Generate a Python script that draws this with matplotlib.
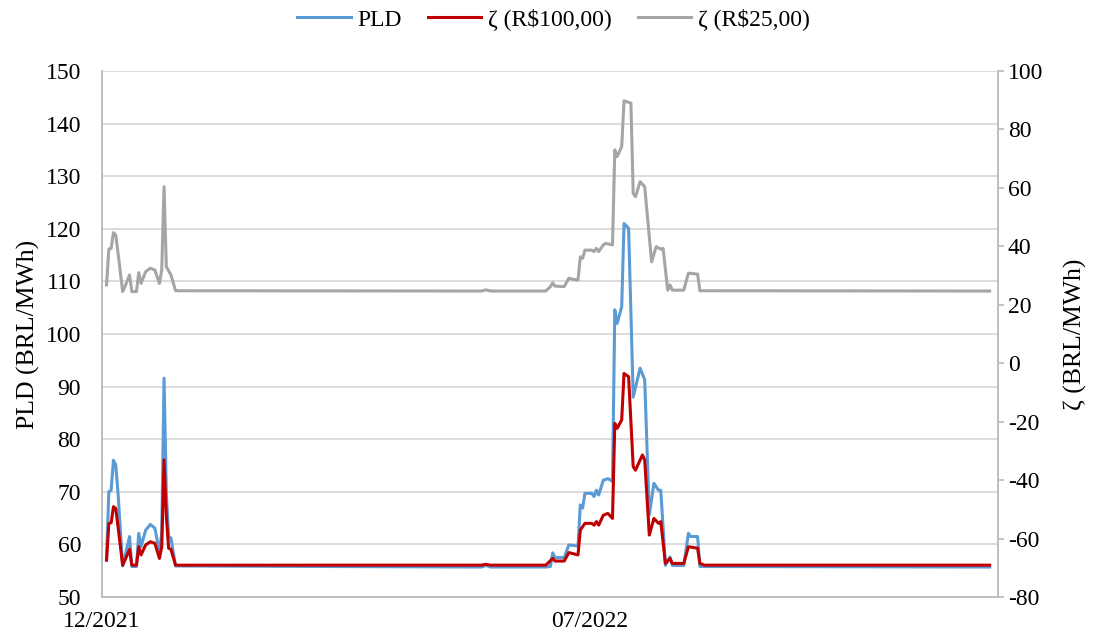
import matplotlib
matplotlib.use("Agg")
import matplotlib.pyplot as plt
import matplotlib.dates as mdates
import pandas as pd

START = pd.Timestamp("2021-12-01")
END = START + pd.Timedelta(days=389.6)
X_TICKS = ["2021-12-01", "2022-07-01"]

# PLD (left axis), day offsets from START
pld_days = [2, 3, 4, 5, 6, 7, 9, 10, 12, 13, 15, 16, 17, 19, 21, 23, 25, 26, 27, 28,
            29, 30, 32, 165, 167, 169, 193, 195, 196, 197, 201, 203, 207, 208, 209,
            210, 213, 214, 215, 216, 218, 220, 222, 223, 224, 226, 227, 229, 231,
            234, 236, 238, 240, 242, 243, 245, 247, 248, 253, 255, 256, 259, 260, 386]
pld = [57.5, 70.0, 70.3, 76.0, 75.1, 69.7, 55.9, 57.7, 61.5, 55.8, 55.8, 62.1, 59.6,
       62.7, 63.8, 63.1, 58.6, 62.1, 91.6, 69.7, 61.5, 61.2, 55.9, 55.7, 56.0, 55.7,
       55.7, 55.8, 58.4, 57.5, 57.5, 59.9, 59.7, 67.5, 66.9, 69.7, 69.7, 69.1, 70.3,
       69.4, 72.2, 72.5, 72.0, 104.6, 102.0, 105.2, 121.0, 120.1, 88.0, 93.5, 91.3,
       65.6, 71.6, 70.3, 70.3, 56.0, 57.6, 56.0, 56.0, 62.1, 61.5, 61.5, 55.8, 55.7]

# zeta R$100,00 (right axis)
z100_days = [2, 3, 4, 5, 6, 7, 9, 10, 12, 13, 15, 16, 17, 19, 21, 23, 25, 26, 27, 28,
             29, 30, 32, 165, 167, 169, 193, 196, 197, 201, 203, 207, 208, 210, 213,
             214, 215, 216, 218, 220, 222, 223, 224, 226, 227, 229, 231, 232, 235,
             236, 238, 240, 242, 243, 245, 247, 248, 253, 255, 259, 260, 262, 386]
z100 = [-67.4, -54.8, -54.6, -49.1, -49.7, -56.0, -69.1, -67.4, -63.7, -69.1, -69.1,
        -62.8, -65.6, -62.2, -61.1, -61.6, -66.8, -62.8, -33.1, -52.5, -63.3, -63.7,
        -69.1, -69.1, -68.8, -69.1, -69.1, -66.8, -67.7, -67.7, -64.8, -65.6, -57.1,
        -54.8, -54.8, -55.4, -54.2, -55.4, -52.0, -51.4, -53.1, -20.6, -22.3, -19.4,
        -3.5, -4.6, -35.4, -36.6, -31.4, -33.1, -58.8, -53.1, -54.8, -54.2, -68.5,
        -66.8, -68.5, -68.5, -62.8, -63.3, -68.5, -69.1, -69.1]

# zeta R$25,00 (right axis)
z25_days = [2, 3, 4, 5, 6, 7, 9, 10, 12, 13, 15, 16, 17, 19, 21, 23, 25, 26, 27, 28,
            30, 32, 165, 167, 169, 193, 195, 196, 197, 201, 203, 205, 207, 208, 209,
            210, 213, 214, 215, 216, 218, 219, 222, 223, 224, 226, 227, 230, 231, 232,
            234, 236, 239, 241, 243, 244, 246, 247, 248, 253, 255, 259, 260, 386]
z25 = [26.8, 39.1, 39.3, 44.7, 43.9, 37.7, 24.5, 26.2, 30.2, 24.5, 24.5, 31.0, 27.3,
       31.3, 32.5, 31.9, 27.3, 31.9, 60.4, 33.0, 30.2, 24.8, 24.7, 25.1, 24.7, 24.7,
       26.2, 27.5, 26.4, 26.2, 29.1, 28.7, 28.5, 36.4, 35.9, 38.7, 38.7, 38.2, 39.3,
       38.2, 40.5, 41.0, 40.5, 73.0, 70.7, 74.1, 89.8, 89.0, 58.1, 57.0, 62.1, 60.4,
       34.7, 39.9, 39.0, 39.3, 25.0, 26.8, 25.0, 25.0, 30.8, 30.5, 24.8, 24.7]


def to_dates(days):
    return START + pd.to_timedelta(days, unit="D")


plt.rcParams["font.family"] = ["Liberation Serif", "DejaVu Serif"]
plt.rcParams["axes.unicode_minus"] = False

fig = plt.figure(figsize=(11.01, 6.36), dpi=100)
ax = fig.add_axes([0.0926, 0.0613, 0.8138, 0.8271])
ax2 = ax.twinx()

grid_c = "#D9D9D9"
spine_c = "#BFBFBF"
lw = 2.2

l1, = ax.plot(to_dates(pld_days), pld, color="#5B9BD5", lw=lw,
              solid_joinstyle="round", label="PLD")
l2, = ax2.plot(to_dates(z100_days), z100, color="#C00000", lw=lw,
               solid_joinstyle="round", label="ζ (R$100,00)")
l3, = ax2.plot(to_dates(z25_days), z25, color="#A5A5A5", lw=lw,
               solid_joinstyle="round", label="ζ (R$25,00)")

ax.set_xlim(START, END)
ax.set_ylim(50, 150)
ax.set_yticks(range(50, 151, 10))
ax2.set_ylim(-80, 100)
ax2.set_yticks(range(-80, 101, 20))

ax.set_xticks(pd.to_datetime(X_TICKS))
ax.xaxis.set_major_formatter(mdates.DateFormatter("%m/%Y"))

ax.grid(axis="y", color=grid_c, lw=1.3)
ax.set_axisbelow(True)

for a in (ax, ax2):
    a.spines["top"].set_visible(False)
    for s in ("left", "right", "bottom"):
        a.spines[s].set_color(spine_c)
        a.spines[s].set_linewidth(1.3)

ax.tick_params(axis="y", length=0, pad=15, labelsize=17)
ax.tick_params(axis="x", length=0, pad=10, labelsize=17)
ax2.tick_params(axis="y", length=4, width=1.3, color=spine_c, pad=3, labelsize=17)

ax.set_ylabel("PLD (BRL/MWh)", fontsize=18.5, labelpad=4)
ax2.set_ylabel("ζ (BRL/MWh)", fontsize=18.5, labelpad=15)

fig.legend(handles=[l1, l2, l3], loc="upper center", bbox_to_anchor=(0.503, 1.02),
           ncol=3, frameon=False, fontsize=17, handlelength=2.25,
           columnspacing=1.1, handletextpad=0.3)

fig.savefig("out.png", dpi=100)
